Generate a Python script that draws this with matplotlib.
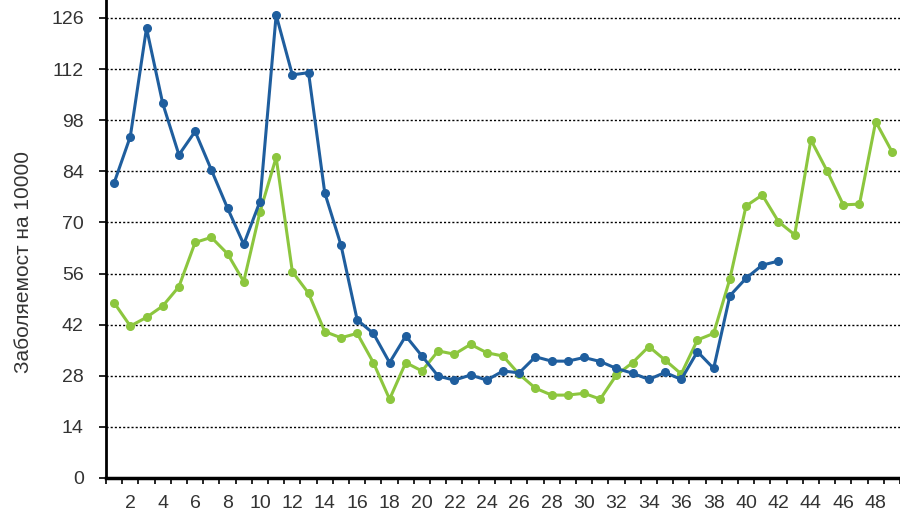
import numpy as np
import matplotlib
matplotlib.use("Agg")
import matplotlib.pyplot as plt

plt.rcParams['font.family'] = ['Liberation Sans', 'DejaVu Sans']

# weekly morbidity per 10000, two seasons
weeks_blue = np.arange(1, 43)
blue = [80.8, 93.5, 123.2, 102.6, 88.5, 94.9, 84.4, 73.9, 64.0, 75.7,
        126.8, 110.4, 111.0, 78.1, 63.8, 43.3, 39.6, 31.6, 38.9, 33.4,
        27.9, 26.8, 28.2, 26.8, 29.3, 28.8, 33.2, 32.0, 32.0, 33.0,
        31.9, 30.0, 28.7, 27.0, 28.9, 27.0, 34.6, 30.0, 49.9, 54.7,
        58.3, 59.4]

weeks_green = np.arange(1, 50)
green = [48.0, 41.6, 44.0, 47.1, 52.4, 64.5, 65.9, 61.4, 53.8, 72.8,
         87.8, 56.5, 50.6, 40.1, 38.4, 39.6, 31.6, 21.6, 31.6, 29.3,
         34.8, 33.9, 36.6, 34.3, 33.4, 28.4, 24.6, 22.7, 22.7, 23.2,
         21.6, 28.2, 31.6, 36.0, 32.3, 28.5, 37.8, 39.6, 54.5, 74.5,
         77.5, 70.2, 66.6, 92.6, 84.1, 74.8, 75.0, 97.6, 89.4]

y_ticks = np.arange(0, 127, 14)
x_labels = np.arange(2, 49, 2)

fig = plt.figure(figsize=(9, 5.16), dpi=100)
ax = fig.add_axes([106 / 900, 38 / 516, 1 - 106 / 900, 1 - 38 / 516])

ax.plot(weeks_green, green, color='#8cc63e', lw=2.2, marker='o', ms=5.5, zorder=3)
ax.plot(weeks_blue, blue, color='#1f5e9e', lw=2.2, marker='o', ms=5.5, zorder=4)

ax.set_xlim(0.76, 49.17)
ax.set_ylim(0, 130.9)
ax.set_yticks(y_ticks)
ax.set_xticks(x_labels)
ax.set_xticks(np.arange(0.5, 50, 1), minor=True)

for t in y_ticks[1:]:
    ax.axhline(t, color='black', lw=1, ls=(0, (1.5, 1.5)), zorder=1)

ax.tick_params(axis='y', labelsize=14, length=5, width=1.2, pad=11, labelcolor='#333333')
ax.tick_params(axis='x', which='major', labelsize=14, length=0, pad=12, labelcolor='#333333')
ax.tick_params(axis='x', which='minor', length=4, width=1.2)

for s in ['top', 'right']:
    ax.spines[s].set_visible(False)
ax.spines['left'].set_linewidth(2)
ax.spines['bottom'].set_linewidth(2.5)

ax.set_ylabel('Заболяемост на 10000', fontsize=15, color='#333333', va='center')
ax.yaxis.set_label_coords(-0.104, 0.452)

fig.savefig('out.png', dpi=100)
